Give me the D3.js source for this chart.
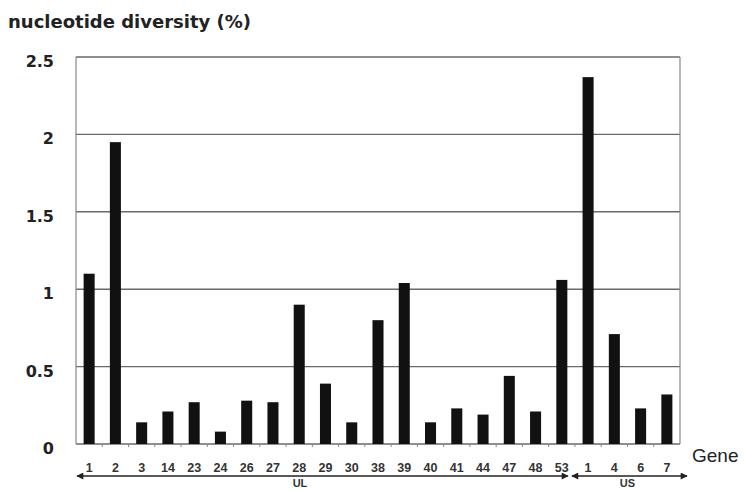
<!DOCTYPE html>
<html>
<head>
<meta charset="utf-8">
<script src="https://cdn.jsdelivr.net/npm/d3@7"></script>
<style>
  html, body { margin: 0; padding: 0; background: #fff; }
  svg { display: block; }
</style>
</head>
<body>
<svg id="chart" width="745" height="490" font-family="'Liberation Sans', Arial, sans-serif"></svg>
<script>
// Gene labels along the x axis (UL genes then US genes)
const genes = ["1","2","3","14","23","24","26","27","28","29","30","38","39","40","41","44","47","48","53","1","4","6","7"];
// Region of each gene
const regions = ["UL","UL","UL","UL","UL","UL","UL","UL","UL","UL","UL","UL","UL","UL","UL","UL","UL","UL","UL","US","US","US","US"];
// Nucleotide diversity (%) per gene
const diversity = [1.10, 1.95, 0.14, 0.21, 0.27, 0.08, 0.28, 0.27, 0.90, 0.39, 0.14, 0.80, 1.04, 0.14, 0.23, 0.19, 0.44, 0.21, 1.06, 2.37, 0.71, 0.23, 0.32];
// Y axis ticks
const yTicks = [0, 0.5, 1, 1.5, 2, 2.5];
const yTickLabels = ["0", "0.5", "1", "1.5", "2", "2.5"];

const svg = d3.select("#chart");
const margin = { left: 76, right: 65, top: 57, bottom: 46 };
const W = 745, H = 490;
const x0 = margin.left, x1 = W - margin.right, y0 = H - margin.bottom, y1 = margin.top;

const idx = genes.map((g, i) => i);
const x = d3.scaleBand().domain(idx).range([x0, x1]).paddingInner(0.58).paddingOuter(0.29);
const xb = d3.scaleBand().domain(idx).range([x0, x1]);
const y = d3.scaleLinear().domain([0, 2.5]).range([y0, y1]);

// Horizontal gridlines
svg.append("g")
  .selectAll("line")
  .data(yTicks)
  .join("line")
  .attr("x1", x0).attr("x2", x1)
  .attr("y1", d => y(d)).attr("y2", d => y(d))
  .attr("stroke", "#6a6a6a")
  .attr("stroke-width", 1.4);

// Plot frame sides
svg.append("line").attr("x1", x0).attr("x2", x0).attr("y1", y1).attr("y2", y0)
  .attr("stroke", "#888").attr("stroke-width", 1.2);
svg.append("line").attr("x1", x1).attr("x2", x1).attr("y1", y1).attr("y2", y0)
  .attr("stroke", "#888").attr("stroke-width", 1.2);

// Small ticks between categories on the baseline
svg.append("g")
  .selectAll("line")
  .data(idx.slice(1))
  .join("line")
  .attr("x1", d => xb(d)).attr("x2", d => xb(d))
  .attr("y1", y0).attr("y2", y0 + 3)
  .attr("stroke", "#888").attr("stroke-width", 1);

// Bars
svg.append("g")
  .selectAll("rect")
  .data(idx)
  .join("rect")
  .attr("x", d => x(d))
  .attr("width", x.bandwidth())
  .attr("y", d => y(diversity[d]))
  .attr("height", d => y(0) - y(diversity[d]))
  .attr("fill", "#111");

// Y tick labels
svg.append("g")
  .selectAll("text")
  .data(yTicks)
  .join("text")
  .attr("x", 54)
  .attr("y", d => y(d) + 10)
  .attr("text-anchor", "end")
  .attr("font-family", "'DejaVu Sans', sans-serif")
  .attr("font-size", 16)
  .attr("font-weight", "bold")
  .attr("fill", "#222")
  .text((d, i) => yTickLabels[i]);

// Y axis title
svg.append("text")
  .attr("x", 8).attr("y", 28)
  .attr("font-family", "'DejaVu Sans', sans-serif")
  .attr("font-size", 18)
  .attr("font-weight", "bold")
  .attr("fill", "#222")
  .text("nucleotide diversity (%)");

// Gene labels
svg.append("g")
  .selectAll("text")
  .data(idx)
  .join("text")
  .attr("x", d => xb(d) + xb.bandwidth() / 2)
  .attr("y", 472)
  .attr("text-anchor", "middle")
  .attr("font-size", 12.5)
  .attr("font-weight", "bold")
  .attr("fill", "#333")
  .text(d => genes[d]);

// "Gene" label
svg.append("text")
  .attr("x", 692).attr("y", 462)
  .attr("font-size", 19)
  .attr("fill", "#222")
  .text("Gene");

// Region arrows
const defs = svg.append("defs");
defs.append("marker").attr("id", "ah").attr("viewBox", "0 0 10 10")
  .attr("refX", 9).attr("refY", 5).attr("markerWidth", 10).attr("markerHeight", 7)
  .attr("markerUnits", "userSpaceOnUse")
  .attr("orient", "auto-start-reverse")
  .append("path").attr("d", "M0,0 L10,5 L0,10 Z").attr("fill", "#222");

const regionNames = ["UL", "US"];
const spans = regionNames.map(r => {
  const ids = idx.filter(i => regions[i] === r);
  return { r, a: xb(ids[0]), b: xb(ids[ids.length - 1]) + xb.bandwidth() };
});
const ay = 476;
svg.append("g").selectAll("line")
  .data(spans)
  .join("line")
  .attr("x1", d => d.r === "UL" ? d.a + 1 : d.a - 3)
  .attr("x2", d => d.r === "UL" ? d.b - 7 : d.b + 7)
  .attr("y1", ay).attr("y2", ay)
  .attr("stroke", "#222").attr("stroke-width", 1.6)
  .attr("marker-start", "url(#ah)")
  .attr("marker-end", "url(#ah)");

svg.append("g").selectAll("text")
  .data(spans)
  .join("text")
  .attr("x", d => d.r === "UL" ? 300 : (d.a + d.b) / 2)
  .attr("y", 487)
  .attr("text-anchor", "middle")
  .attr("font-size", 11)
  .attr("font-weight", "bold")
  .attr("fill", "#333")
  .text(d => d.r);
</script>
</body>
</html>
